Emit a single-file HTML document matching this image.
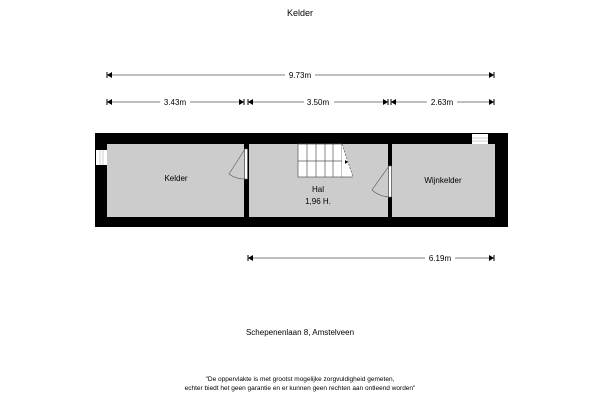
<!DOCTYPE html>
<html><head><style>body{margin:0;background:#fff}svg{display:block}text{font-family:"Liberation Sans",sans-serif}</style></head><body>
<svg width="600" height="400" viewBox="0 0 600 400">
<text x="300" y="16" font-size="9" text-anchor="middle">Kelder</text>
<g font-size="8" text-anchor="middle">
<line x1="107" y1="75" x2="494" y2="75" stroke="#000" stroke-width="0.6"/>
<rect x="285" y="70" width="30" height="10" fill="#fff"/><text x="300" y="78">9.73m</text>
<line x1="107" y1="102" x2="244" y2="102" stroke="#000" stroke-width="0.6"/>
<line x1="248" y1="102" x2="388" y2="102" stroke="#000" stroke-width="0.6"/>
<line x1="391" y1="102" x2="494" y2="102" stroke="#000" stroke-width="0.6"/>
<rect x="160" y="97" width="30" height="10" fill="#fff"/><text x="175" y="105">3.43m</text>
<rect x="304" y="97" width="30" height="10" fill="#fff"/><text x="318" y="105">3.50m</text>
<rect x="427" y="97" width="30" height="10" fill="#fff"/><text x="442" y="105">2.63m</text>
<line x1="248" y1="258" x2="494" y2="258" stroke="#000" stroke-width="0.6"/>
<rect x="425" y="253" width="30" height="10" fill="#fff"/><text x="440" y="261">6.19m</text>
</g>
<g fill="#000">
<path d="M107 75l5-3v6z M494 75l-5-3v6z"/>
<path d="M107 102l5-3v6z M244 102l-5-3v6z M248 102l5-3v6z M388 102l-5-3v6z M391 102l5-3v6z M494 102l-5-3v6z"/>
<path d="M248 258l5-3v6z M494 258l-5-3v6z"/>
</g>
<g stroke="#000" stroke-width="1"><line x1="107" y1="72" x2="107" y2="78"/><line x1="494" y1="72" x2="494" y2="78"/><line x1="107" y1="99" x2="107" y2="105"/><line x1="494" y1="99" x2="494" y2="105"/><line x1="244" y1="99" x2="244" y2="105"/><line x1="248" y1="99" x2="248" y2="105"/><line x1="388" y1="99" x2="388" y2="105"/><line x1="391" y1="99" x2="391" y2="105"/><line x1="248" y1="255" x2="248" y2="261"/><line x1="494" y1="255" x2="494" y2="261"/></g>
<rect x="95" y="133" width="413" height="94" fill="#000"/>
<rect x="107" y="144" width="137" height="73" fill="#ccc"/>
<rect x="249" y="144" width="139" height="73" fill="#ccc"/>
<rect x="392" y="144" width="103" height="73" fill="#ccc"/>
<rect x="96" y="150" width="11" height="15" fill="#fff"/>
<g stroke="#aaa" stroke-width="0.6"><line x1="100" y1="150" x2="100" y2="165"/><line x1="103" y1="150" x2="103" y2="165"/></g>
<rect x="472" y="134" width="16" height="10" fill="#fff"/>
<g stroke="#aaa" stroke-width="0.6"><line x1="472" y1="138" x2="488" y2="138"/><line x1="472" y1="141" x2="488" y2="141"/></g>
<rect x="244.5" y="149" width="3" height="30" fill="#fff" stroke="#666" stroke-width="0.5"/>
<path d="M245 149 L229 174 A 26 26 0 0 0 245 179" fill="none" stroke="#555" stroke-width="0.6"/>
<rect x="388.5" y="166" width="3" height="31" fill="#fff" stroke="#666" stroke-width="0.5"/>
<path d="M389 166 L372 190 A 28 28 0 0 0 389 197" fill="none" stroke="#555" stroke-width="0.6"/>
<rect x="298" y="144" width="44" height="33" fill="#fff" stroke="#555" stroke-width="0.7"/>
<path d="M342 144 L353 177 L342 177 Z" fill="#fff"/>
<g stroke="#555" stroke-width="0.7"><line x1="307" y1="144" x2="307" y2="177"/><line x1="316" y1="144" x2="316" y2="177"/><line x1="325" y1="144" x2="325" y2="177"/><line x1="333" y1="144" x2="333" y2="177"/><line x1="298" y1="161" x2="342" y2="161"/><line x1="342" y1="177" x2="353" y2="177"/><line x1="342" y1="144" x2="353" y2="177" stroke-dasharray="2,1.5"/></g>
<path d="M345 160l3 2-3 2z" fill="#000"/>
<g font-size="8" text-anchor="middle">
<text x="176" y="181">Kelder</text>
<text x="318" y="192">Hal</text>
<text x="318" y="204">1,96 H.</text>
<text x="443" y="183">Wijnkelder</text>
<text x="300" y="335">Schepenenlaan 8, Amstelveen</text>
<text x="300" y="381" font-size="6.5">"De oppervlakte is met grootst mogelijke zorgvuldigheid gemeten,</text>
<text x="300" y="390" font-size="6.5">echter biedt het geen garantie en er kunnen geen rechten aan ontleend worden"</text>
</g>
</svg>
</body></html>
